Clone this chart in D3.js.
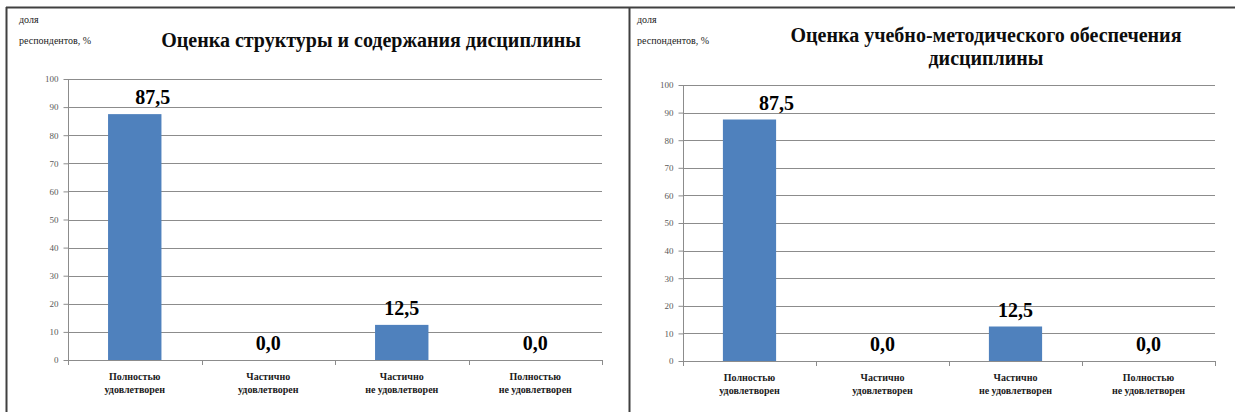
<!DOCTYPE html>
<html><head><meta charset="utf-8">
<script src="https://cdn.jsdelivr.net/npm/d3@7/dist/d3.min.js"></script>
<style>body{margin:0;background:#fff}svg{display:block}
svg text{font-family:"Liberation Serif","Times New Roman","DejaVu Serif",serif}</style>
</head><body><svg id="c" width="1235" height="412"></svg>
<script>
const categories = [["Полностью","удовлетворен"],["Частично","удовлетворен"],["Частично","не удовлетворен"],["Полностью","не удовлетворен"]];
const valuesStructure = [87.5, 0.0, 12.5, 0.0];
const valuesMethod = [87.5, 0.0, 12.5, 0.0];
const yTicks = [0,10,20,30,40,50,60,70,80,90,100];
const titleStructure = ["Оценка структуры и содержания дисциплины"];
const titleMethod = ["Оценка учебно-методического обеспечения","дисциплины"];
const yLabel = ["доля","респондентов, %"];

const svg = d3.select("#c");
const gridColor = "#8c8c8c";

svg.append("line").attr("x1",6).attr("x2",1235).attr("y1",7.5).attr("y2",7.5).attr("stroke","#404040").attr("stroke-width",2);
svg.append("line").attr("x1",6.5).attr("x2",6.5).attr("y1",7).attr("y2",412).attr("stroke","#404040").attr("stroke-width",2);
svg.append("line").attr("x1",629.5).attr("x2",629.5).attr("y1",7).attr("y2",412).attr("stroke","#404040").attr("stroke-width",2);

function panel(cfg){
  const g = svg.append("g");
  const y = d3.scaleLinear().domain([0,100]).range([cfg.y0, cfg.y100]);
  const x = d3.scaleBand().domain(d3.range(categories.length)).range([cfg.xL, cfg.xR]).paddingInner(0.6).paddingOuter(0.3);
  g.append("g").selectAll("line").data(yTicks.filter(d=>d>0)).join("line")
    .attr("x1",cfg.xL).attr("x2",cfg.xR).attr("y1",d=>Math.round(y(d))+0.5).attr("y2",d=>Math.round(y(d))+0.5)
    .attr("stroke",gridColor).attr("stroke-width",1);
  const ya = g.append("g").attr("transform",`translate(${cfg.xL+0.5},0)`)
    .call(d3.axisLeft(y).tickValues(yTicks).tickSize(5).tickPadding(5).tickFormat(d3.format("d")));
  ya.attr("font-family",null);
  ya.select(".domain").attr("stroke",gridColor).attr("d",`M0,${y(100)}V${y(0)}`);
  ya.selectAll(".tick line").attr("stroke",gridColor);
  ya.selectAll(".tick text").attr("font-size",9).attr("fill","#595959");
  g.append("g").selectAll("rect").data(cfg.values).join("rect")
    .attr("x",(d,i)=>x(i)).attr("width",x.bandwidth())
    .attr("y",d=>y(d)).attr("height",d=>y(0)-y(d)).attr("fill","#4f81bd");
  const xb = d3.scaleLinear().domain([0,categories.length]).range([cfg.xL,cfg.xR]);
  g.append("line").attr("x1",cfg.xL).attr("x2",cfg.xR).attr("y1",Math.round(y(0))+0.5).attr("y2",Math.round(y(0))+0.5).attr("stroke",gridColor);
  g.append("g").selectAll("line").data(d3.range(categories.length+1)).join("line")
    .attr("x1",d=>Math.round(xb(d))+0.5).attr("x2",d=>Math.round(xb(d))+0.5)
    .attr("y1",y(0)).attr("y2",y(0)+5).attr("stroke",gridColor);
  g.append("g").selectAll("text").data(cfg.values).join("text")
    .attr("x",(d,i)=>x(i)+x.bandwidth()/2+(cfg.labelDx[i]||0)).attr("y",d=>y(d)-10)
    .attr("text-anchor","middle").attr("font-weight","bold").attr("font-size",20)
    .text(d=>d3.format(".1f")(d).replace(".",","));
  const cl = g.append("g").selectAll("text").data(categories).join("text")
    .attr("x",(d,i)=>x(i)+x.bandwidth()/2).attr("y",y(0)+20)
    .attr("text-anchor","middle").attr("font-weight","bold").attr("font-size",10).attr("fill","#1a1a1a");
  cl.selectAll("tspan").data(d=>d).join("tspan").attr("x",function(){return this.parentNode.getAttribute("x");})
    .attr("dy",(d,i)=>i?13:0).text(d=>d);
  g.append("g").selectAll("text").data(yLabel).join("text")
    .attr("x",cfg.labX).attr("y",(d,i)=>i?44:23).attr("font-size",10).attr("fill","#1a1a1a").text(d=>d);
  g.append("g").selectAll("text").data(cfg.title).join("text")
    .attr("x",cfg.titleX).attr("y",(d,i)=>cfg.titleY+i*23).attr("text-anchor","middle")
    .attr("font-weight","bold").attr("font-size",20).attr("fill","#0d0d0d").text(d=>d);
}
panel({values:valuesStructure, title:titleStructure, xL:68, xR:602, y0:360, y100:79, labX:19, titleX:371, titleY:47, labelDx:[18,0,0,0]});
panel({values:valuesMethod, title:titleMethod, xL:683, xR:1215, y0:361, y100:85, labX:637, titleX:986, titleY:42, labelDx:[27,0,0,0]});
</script></body></html>
